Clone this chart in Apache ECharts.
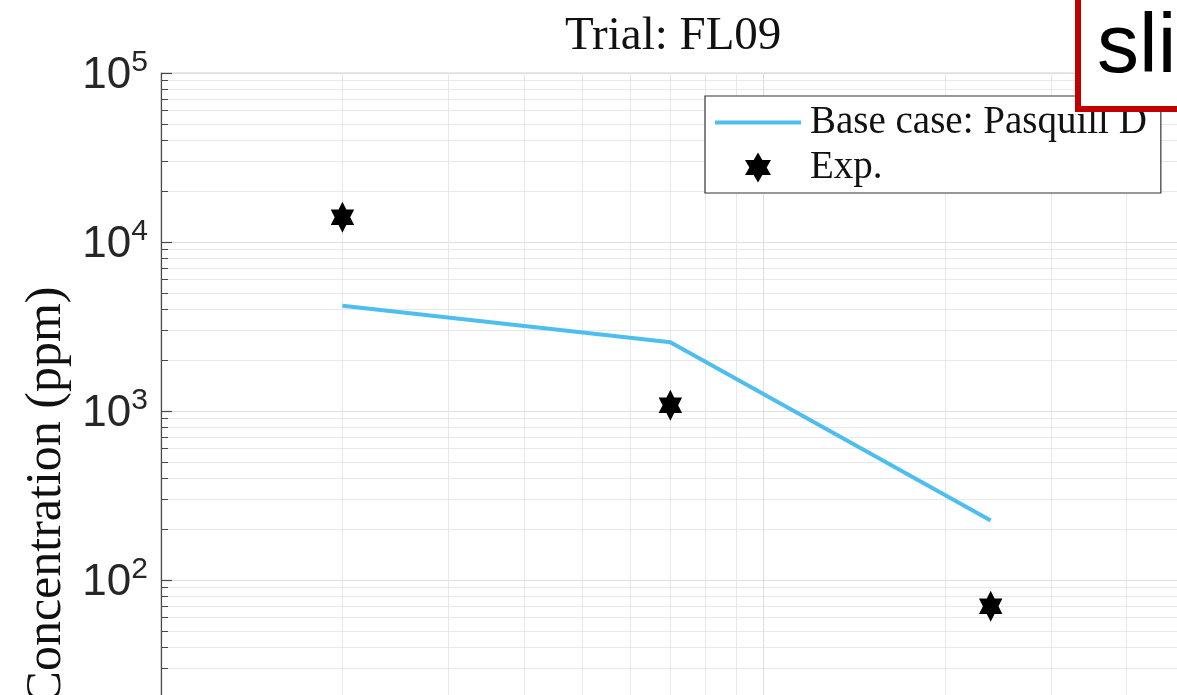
<!DOCTYPE html>
<html>
<head>
<meta charset="utf-8">
<script src="https://cdn.jsdelivr.net/npm/echarts@6/dist/echarts.min.js"></script>
<style>
  html, body { margin: 0; padding: 0; background: #fff; overflow: hidden; }
  /* the axes box runs past the right and bottom edges of the window */
  #chart { width: 1240px; height: 1000px; }
</style>
</head>
<body>
<div id="chart"></div>
<script>
// Downwind sensor arcs (m) and measured / modelled concentrations (ppm)
const distances = [20, 70, 238];
const baseCaseConc = [4200, 2550, 225];
const expConc = [14000, 1080, 70];

const titleText = 'Trial: FL09';
const baseCaseName = 'Base case: Pasquill D';
const expName = 'Exp.';
const yAxisName = 'Concentration (ppm)';

// axis limits
const xRange = [10, 500];
const yRange = [1, 100000];

const serifFont = '"Liberation Serif", "DejaVu Serif", serif';
const sansFont = '"Liberation Sans Narrow", "Liberation Sans", Arial, sans-serif';

// six-pointed star outline
const hexagram = 'path://M100,0L128.87,50L186.6,50L157.7,100L186.6,150L128.87,150L100,200L71.13,150L13.4,150L42.3,100L13.4,50L71.13,50Z';

const chart = echarts.init(document.getElementById('chart'), null, { renderer: 'canvas' });

const gridLine = { color: '#dedede', width: 1 };
const minorLine = { color: '#e8e8e8', width: 1 };

chart.setOption({
  backgroundColor: '#ffffff',
  animation: false,
  title: {
    text: titleText,
    left: 565,
    top: 13,
    padding: 0,
    textStyle: { fontFamily: serifFont, fontSize: 47, fontWeight: 'normal', color: '#111' }
  },
  legend: {
    orient: 'vertical',
    left: 705,
    top: 96,
    padding: [7, 14, 6, 8],
    itemGap: 6,
    itemWidth: 86,
    itemHeight: 30,
    backgroundColor: '#ffffff',
    borderColor: '#333',
    borderWidth: 1.2,
    borderRadius: 0,
    textStyle: { fontFamily: serifFont, fontSize: 39, color: '#111', padding: [0, 0, 0, 4] },
    data: [
      { name: baseCaseName, lineStyle: { width: 4, color: '#4DBEEE' }, itemStyle: { opacity: 0 } },
      { name: expName }
    ]
  },
  grid: {
    left: 161,
    top: 73,
    width: 1024,
    height: 845,
    show: true,
    borderColor: '#cfcfcf',
    borderWidth: 1,
    backgroundColor: 'transparent'
  },
  xAxis: {
    type: 'log',
    logBase: 10,
    min: xRange[0],
    max: xRange[1],
    axisLine: { show: false },
    axisTick: { show: false },
    axisLabel: { show: false },
    splitLine: { show: true, lineStyle: gridLine },
    minorTick: { show: false, splitNumber: 9 },
    minorSplitLine: { show: true, lineStyle: minorLine }
  },
  yAxis: {
    type: 'log',
    logBase: 10,
    min: yRange[0],
    max: yRange[1],
    name: yAxisName,
    nameLocation: 'middle',
    nameGap: 88,
    nameTextStyle: { fontFamily: serifFont, fontSize: 50, color: '#111' },
    axisLine: { show: true, lineStyle: { color: '#4a4a4a', width: 1.2 } },
    axisTick: { show: true, inside: true, length: 11, lineStyle: { color: '#4a4a4a', width: 1.2 } },
    minorTick: { show: true, splitNumber: 9, length: 7, lineStyle: { color: '#4a4a4a', width: 1 } },
    splitLine: { show: true, lineStyle: gridLine },
    minorSplitLine: { show: true, lineStyle: minorLine },
    axisLabel: {
      margin: 13,
      formatter: function (v) {
        const e = Math.round(Math.log10(v));
        return '{b|10}{s|' + e + '}';
      },
      rich: {
        b: { fontFamily: sansFont, fontSize: 44, color: '#262626', verticalAlign: 'bottom', lineHeight: 50 },
        s: { fontFamily: sansFont, fontSize: 30, color: '#262626', verticalAlign: 'top', lineHeight: 50, padding: [0, 0, 18, 0] }
      }
    }
  },
  series: [
    {
      name: baseCaseName,
      type: 'line',
      data: distances.map((d, i) => [d, baseCaseConc[i]]),
      symbol: 'none',
      lineStyle: { color: '#4DBEEE', width: 4 },
      itemStyle: { color: '#4DBEEE' },
      z: 3
    },
    {
      name: expName,
      type: 'scatter',
      data: distances.map((d, i) => [d, expConc[i]]),
      symbol: hexagram,
      symbolSize: [27, 31],
      symbolKeepAspect: true,
      itemStyle: { color: '#000000', opacity: 1 },
      z: 4
    }
  ],
  graphic: [
    {
      type: 'rect',
      shape: { x: 1078, y: -20, width: 200, height: 129 },
      style: { fill: '#ffffff', stroke: '#c00000', lineWidth: 6 },
      z: 100
    },
    {
      type: 'text',
      x: 1097,
      y: 49,
      style: { text: 'sli', font: '84px "Liberation Sans", Arial, sans-serif', fill: '#000', verticalAlign: 'middle' },
      z: 101
    }
  ]
});
</script>
</body>
</html>
